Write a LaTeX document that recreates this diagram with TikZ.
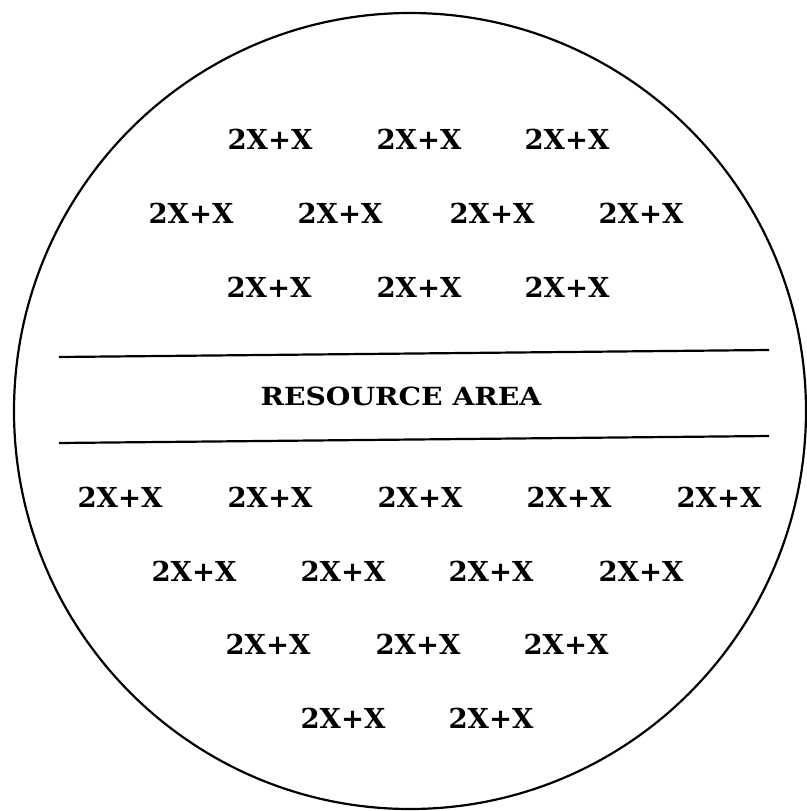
\documentclass[tikz,border=0pt]{standalone}
\usepackage{fontspec}
\setmainfont{DejaVu Serif}
\begin{document}
\begin{tikzpicture}[x=1pt,y=-1pt,
  lbl/.style={font=\fontsize{27.5}{27.5}\selectfont\bfseries, inner sep=0pt},
  ttl/.style={font=\fontsize{25}{25}\selectfont\bfseries, inner sep=0pt},
  rule/.style={line width=2.2pt}]
\useasboundingbox (0,0) rectangle (806,811);
\draw[rule] (410,411) ellipse [x radius=396, y radius=398];
% separating lines
\coordinate (u1) at (59,357); \coordinate (u2) at (769,350);
\coordinate (d1) at (59,443); \coordinate (d2) at (769,436);
\draw[rule] (u1) -- (u2);
\draw[rule] (d1) -- (d2);
\node[ttl] (res) at (401,396) {\scalebox{1.13}[1]{RESOURCE AREA}};
% upper group
\foreach \x [count=\i] in {270,419,567} \node[lbl] (a\i) at (\x,139) {2X+X};
\foreach \x [count=\i] in {191,340,492,641} \node[lbl] (b\i) at (\x,213) {2X+X};
\foreach \x [count=\i] in {269,419,567} \node[lbl] (c\i) at (\x,287) {2X+X};
% lower group
\foreach \x [count=\i] in {120,270,420,569,719} \node[lbl] (d\i) at (\x,497) {2X+X};
\foreach \x [count=\i] in {194,343,491,641} \node[lbl] (e\i) at (\x,571) {2X+X};
\foreach \x [count=\i] in {268,418,566} \node[lbl] (f\i) at (\x,644) {2X+X};
\foreach \x [count=\i] in {343,491} \node[lbl] (g\i) at (\x,718) {2X+X};
\end{tikzpicture}
\end{document}
